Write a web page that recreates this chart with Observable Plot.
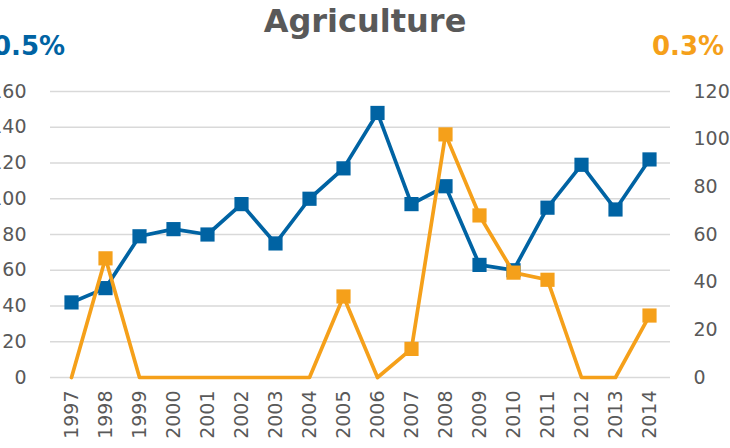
<!DOCTYPE html>
<html>
<head>
<meta charset="utf-8">
<script src="https://cdn.jsdelivr.net/npm/d3@7"></script>
<script src="https://cdn.jsdelivr.net/npm/@observablehq/plot@0.6"></script>
<style>
  html, body { margin: 0; padding: 0; background: #fff; overflow: hidden; }
  body { width: 730px; height: 448px; font-family: "DejaVu Sans", sans-serif; }
  #header { position: relative; height: 75px; width: 730px; }
  #title { position: absolute; left: 0; width: 730px; top: 1px; text-align: center;
           font-weight: bold; font-size: 32px; color: #595959; line-height: 40px; }
  #lpct { position: absolute; left: -7px; top: 31px; font-weight: bold; font-size: 26px; color: #0063a3; }
  #rpct { position: absolute; left: 652px; top: 31px; font-weight: bold; font-size: 26px; color: #f5a01a; }
  #chart svg { display: block; overflow: visible; }
</style>
</head>
<body>
<div id="header">
  <div id="title">Agriculture</div>
  <div id="lpct">0.5%</div>
  <div id="rpct">0.3%</div>
</div>
<div id="chart"></div>
<script>
const years = ["1997","1998","1999","2000","2001","2002","2003","2004","2005","2006","2007","2008","2009","2010","2011","2012","2013","2014"];
const blueValues = [42, 50, 79, 83, 80, 97, 75, 100, 117, 148, 97, 107, 63, 60, 95, 119, 94, 122];
const orangeValues = [0, 50, 0, 0, 0, 0, 0, 0, 34, 0, 12, 102, 68, 44, 41, 0, 0, 26];
const leftTicks = [0, 20, 40, 60, 80, 100, 120, 140, 160];
const rightTicks = [0, 20, 40, 60, 80, 100, 120];

const leftMax = 160, rightMax = 120;
const k = leftMax / rightMax;

const blue = years.map((y, i) => ({year: y, v: blueValues[i]}));
const orange = years.map((y, i) => ({year: y, v: orangeValues[i] * k, raw: orangeValues[i]}));

const BLUE = "#0063a3", ORANGE = "#f5a01a", TXT = "#595959";

const chart = Plot.plot({
  width: 730,
  height: 373,
  marginLeft: 50,
  marginRight: 60,
  marginTop: 16,
  marginBottom: 71,
  style: {fontFamily: "DejaVu Sans, sans-serif", fontSize: "19px", color: TXT, background: "white"},
  x: {type: "point", domain: years, padding: 0.5},
  y: {domain: [0, leftMax]},
  marks: [
    Plot.gridY(leftTicks, {stroke: "#d9d9d9", strokeOpacity: 1, strokeWidth: 1.6}),
    Plot.axisY(leftTicks, {anchor: "left", tickSize: 0, tickPadding: 24, fill: TXT, fontSize: 19, label: null}),
    Plot.axisY(rightTicks.map(v => v * k), {anchor: "right", tickSize: 0, tickPadding: 23, fill: TXT, fontSize: 19,
      tickFormat: d => String(Math.round(d / k)), label: null}),
    Plot.axisX({tickSize: 0, tickRotate: -90, tickPadding: 13, fill: TXT, fontSize: 19, label: null}),
    Plot.line(blue, {x: "year", y: "v", stroke: BLUE, strokeWidth: 3.7}),
    Plot.dot(blue, {x: "year", y: "v", symbol: "square", r: 8, fill: BLUE, stroke: "none"}),
    Plot.line(orange, {x: "year", y: "v", stroke: ORANGE, strokeWidth: 3.7}),
    Plot.dot(orange.filter(d => d.raw > 0), {x: "year", y: "v", symbol: "square", r: 8, fill: ORANGE, stroke: "none"})
  ]
});
document.getElementById("chart").appendChild(chart);
</script>
</body>
</html>
